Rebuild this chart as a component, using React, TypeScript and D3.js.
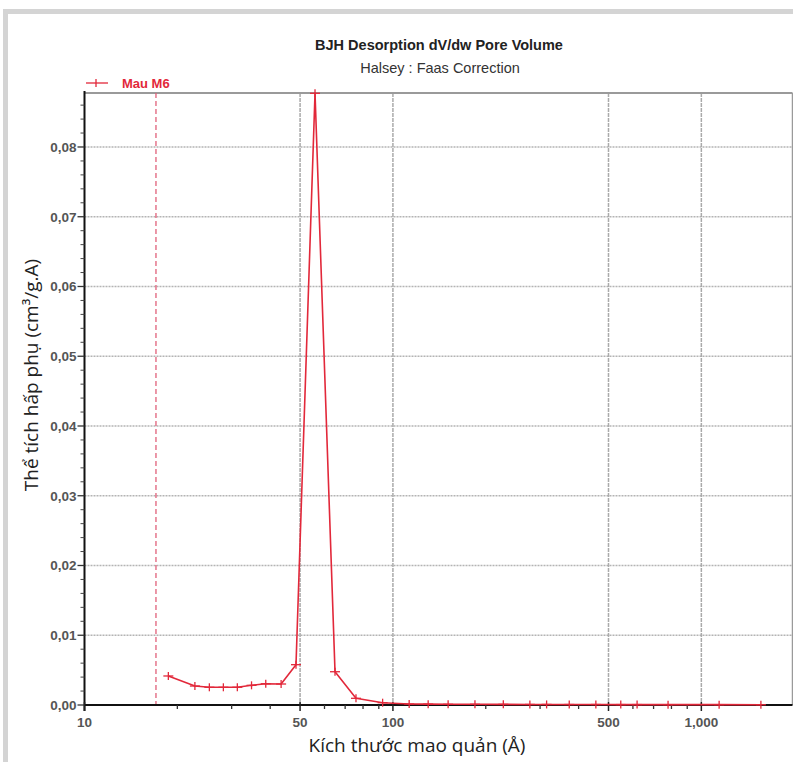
import React from "react";
import * as d3 from "d3";

const poreSize = [18.7, 22.8, 25.4, 28.2, 31.3, 34.8, 38.7, 43.4, 48.5, 55.9, 64.9, 75.9, 92.6, 112.9, 130.1, 151, 184.5, 228, 278, 315, 373, 455, 548, 619, 780, 1142, 1560];
const dvdw = [0.00416, 0.00272, 0.00254, 0.00254, 0.00254, 0.00282, 0.00305, 0.00301, 0.00578, 0.0877, 0.00477, 0.00096, 0.00033, 0.00014, 0.00012, 0.0001, 0.0001, 0.00009, 0.00008, 0.00008, 0.00007, 0.00007, 0.00006, 0.00006, 0.00005, 0.00005, 0.00004];
const xMajorTicks = [10, 50, 100, 500, 1000];
const xMajorLabels = ["10", "50", "100", "500", "1,000"];
const xMinorTicks = [20, 30, 40, 60, 70, 80, 90, 200, 300, 400, 600, 700, 800, 900];
const yMajorTicks = [0, 0.01, 0.02, 0.03, 0.04, 0.05, 0.06, 0.07, 0.08];
const markerLine = 17.05;
const seriesName = "Mau M6";
const title = "BJH Desorption dV/dw Pore Volume";
const subtitle = "Halsey : Faas Correction";
const xTitle = "Kích thước mao quản (Å)";
const yTitle = "Thể tích hấp phụ (cm³/g.A)";

export default function App() {
  const W = 793, H = 762;
  const left = 84.5, right = 792.5, top = 93, bottom = 705;
  const x = d3.scaleLog().domain([10, 1975]).range([left, right]);
  const y = d3.scaleLinear().domain([0, 0.08774]).range([bottom, top]);
  const red = "#e2283a";
  const pts: [number, number][] = poreSize.map((p, i) => [x(p), y(dvdw[i])]);
  const line = d3.line().curve(d3.curveLinear)(pts) || "";
  const yMinor = d3.range(0, 0.0877, 0.002).filter((v) => Math.abs(Math.round(v * 100) - v * 100) > 1e-6);
  const fmtY = (v: number) => v.toFixed(2).replace(".", ",");
  const tickFont = "'Liberation Sans', Arial, sans-serif";
  return (
    <svg width={W} height={H} style={{ position: "absolute", left: 0, top: 0, background: "#fff" }}>
      <rect x={0} y={0} width={W} height={H} fill="#fff" />
      <rect x={5.5} y={11.5} width={W + 20} height={H + 20} fill="none" stroke="#d4d4d4" strokeWidth={5} />
      {/* titles */}
      <text x={439} y={50} textAnchor="middle" fontFamily={tickFont} fontWeight="bold" fontSize={14.5} fill="#222">{title}</text>
      <text x={440} y={73} textAnchor="middle" fontFamily={tickFont} fontSize={14.5} fill="#333">{subtitle}</text>
      {/* grid */}
      {yMajorTicks.slice(1).map((v) => (
        <line key={"gy" + v} x1={left} x2={right} y1={y(v)} y2={y(v)} stroke="#b4b4b4" strokeWidth={1.3} strokeDasharray="2,1" />
      ))}
      {xMajorTicks.slice(1).map((v) => (
        <line key={"gx" + v} x1={x(v)} x2={x(v)} y1={top} y2={bottom} stroke="#aaa" strokeWidth={1.5} strokeDasharray="4,1" />
      ))}
      {/* frame */}
      <line x1={left} x2={right} y1={top} y2={top} stroke="#9a9a9a" strokeWidth={2} />
      <line x1={right} x2={right} y1={top} y2={bottom} stroke="#9a9a9a" strokeWidth={1.5} />
      {/* marker line */}
      <line x1={x(markerLine)} x2={x(markerLine)} y1={top} y2={bottom} stroke="#e0607a" strokeWidth={1.3} strokeDasharray="5,3" />
      {/* axes */}
      <line x1={left} x2={right} y1={bottom} y2={bottom} stroke="#111" strokeWidth={2} />
      <line x1={left} x2={left} y1={top - 2} y2={bottom + 6} stroke="#111" strokeWidth={2} />
      {yMajorTicks.map((v) => (
        <g key={"yt" + v}>
          <line x1={left - 7} x2={left} y1={y(v)} y2={y(v)} stroke="#333" strokeWidth={1.3} />
          <text x={left - 8} y={y(v) + 5} textAnchor="end" fontFamily={tickFont} fontWeight="bold" fontSize={13.5} fill="#555">{fmtY(v)}</text>
        </g>
      ))}
      {yMinor.map((v) => (
        <line key={"ym" + v} x1={left - 4} x2={left} y1={y(v)} y2={y(v)} stroke="#444" strokeWidth={1} />
      ))}
      {xMajorTicks.map((v, i) => (
        <g key={"xt" + v}>
          <line x1={x(v)} x2={x(v)} y1={bottom - 3} y2={bottom + 6} stroke="#222" strokeWidth={1.5} />
          <text x={x(v)} y={bottom + 22} textAnchor="middle" fontFamily={tickFont} fontWeight="bold" fontSize={13.5} fill="#555">{xMajorLabels[i]}</text>
        </g>
      ))}
      {xMinorTicks.map((v) => (
        <line key={"xm" + v} x1={x(v)} x2={x(v)} y1={bottom} y2={bottom + 4} stroke="#333" strokeWidth={1.3} />
      ))}
      {/* series */}
      <path d={line} fill="none" stroke={red} strokeWidth={1.6} strokeLinejoin="round" />
      {pts.map(([px, py], i) => (
        <g key={"m" + i} stroke={red} strokeWidth={1.3}>
          <line x1={px - 5} x2={px + 5} y1={py} y2={py} />
          <line x1={px} x2={px} y1={py - 4} y2={py + 4} />
        </g>
      ))}
      {/* legend */}
      <g stroke={red} strokeWidth={1.3}>
        <line x1={86} x2={108} y1={83} y2={83} />
        <line x1={96} x2={96} y1={79} y2={87} />
      </g>
      <text x={122} y={88} fontFamily={tickFont} fontWeight="bold" fontSize={13} fill={red}>{seriesName}</text>
      {/* axis titles */}
      <text x={417} y={752} textAnchor="middle" fontFamily="'Open Sans', sans-serif" fontSize={19} fill="#222">{xTitle}</text>
      <text transform={`translate(38,${375}) rotate(-90)`} textAnchor="middle" fontFamily="'Open Sans', sans-serif" fontSize={19} fill="#222">{yTitle}</text>
    </svg>
  );
}
